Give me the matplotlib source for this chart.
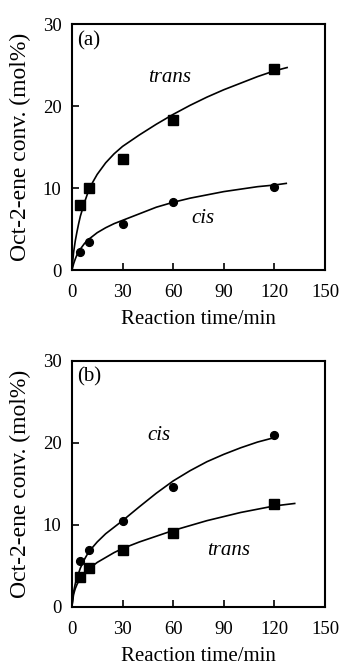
import matplotlib
matplotlib.use('Agg')
import matplotlib.pyplot as plt

plt.rcParams['font.family'] = ['Liberation Serif', 'DejaVu Serif']

# measured points
t = [5, 10, 30, 60, 120]
a_trans = [8.0, 10.0, 13.6, 18.3, 24.5]
a_cis = [2.2, 3.5, 5.7, 8.3, 10.2]
b_cis = [5.6, 6.9, 10.4, 14.6, 20.9]
b_trans = [3.6, 4.7, 6.9, 9.0, 12.5]

# fitted curves
a_trans_fit_t = [0, 1, 2, 3, 4, 5, 7.5, 10, 12.5, 15, 20, 25, 30, 40, 50, 60, 70, 80, 90, 100, 110, 120, 127.5]
a_trans_fit = [0, 2.2, 3.6, 4.7, 5.7, 6.6, 8.3, 9.8, 10.8, 11.7, 13.1, 14.2, 15.1, 16.5, 17.8, 19.0,
               20.1, 21.1, 22.0, 22.8, 23.6, 24.3, 24.7]
a_cis_fit_t = [0, 1, 2, 3, 5, 7.5, 10, 15, 20, 25, 30, 40, 50, 60, 70, 80, 90, 100, 110, 120, 127]
a_cis_fit = [0, 0.8, 1.4, 1.9, 2.6, 3.3, 3.8, 4.6, 5.2, 5.7, 6.1, 6.9, 7.7, 8.3, 8.8, 9.2, 9.6,
             9.9, 10.2, 10.4, 10.6]
b_cis_fit_t = [0, 1, 2, 3, 5, 7.5, 10, 15, 20, 25, 30, 40, 50, 60, 70, 80, 90, 100, 110, 121]
b_cis_fit = [0, 1.8, 2.8, 3.5, 4.7, 5.8, 6.7, 7.9, 8.9, 9.7, 10.5, 12.2, 13.85, 15.35, 16.6, 17.7,
             18.6, 19.4, 20.1, 20.7]
b_trans_fit_t = [0, 1, 2, 3, 5, 7.5, 10, 15, 20, 25, 30, 40, 50, 60, 70, 80, 90, 100, 110, 120, 132]
b_trans_fit = [0, 1.5, 2.2, 2.7, 3.5, 4.1, 4.6, 5.4, 6.0, 6.6, 7.1, 7.9, 8.6, 9.3, 9.9, 10.5,
               11.0, 11.5, 11.9, 12.3, 12.6]

fig = plt.figure(figsize=(3.44, 6.67), dpi=100)
ax1 = fig.add_axes([0.209, 0.5945, 0.736, 0.3695])
ax2 = fig.add_axes([0.209, 0.0905, 0.736, 0.3683])

panels = [
    (ax1, '(a)',
     (a_trans_fit_t, a_trans_fit, t, a_trans, 's'),
     (a_cis_fit_t, a_cis_fit, t, a_cis, 'o'),
     [('trans', 45, 23.5), ('cis', 71, 6.3)]),
    (ax2, '(b)',
     (b_cis_fit_t, b_cis_fit, t, b_cis, 'o'),
     (b_trans_fit_t, b_trans_fit, t, b_trans, 's'),
     [('cis', 45, 20.9), ('trans', 80, 6.8)]),
]

for ax, tag, s1, s2, labels in panels:
    for ft, fy, pt, py, mk in (s1, s2):
        ax.plot(ft, fy, color='black', lw=1.2, zorder=2, solid_joinstyle='round')
        ms = 6.8 if mk == 's' else 5.6
        ax.plot(pt, py, mk, color='black', ms=ms, mec='black', zorder=3)
    for txt, x, y in labels:
        ax.text(x, y, txt, fontsize=15, style='italic', ha='left', va='center')
    ax.text(3, 28.0, tag, fontsize=15, ha='left', va='center')

    ax.set_xlim(0, 150)
    ax.set_ylim(0, 30)
    ax.set_xticks([0, 30, 60, 90, 120, 150])
    ax.set_yticks([0, 10, 20, 30])
    ax.tick_params(direction='in', length=5, width=1.2, labelsize=13.5,
                   top=False, right=False)
    ax.tick_params(axis='x', pad=10)
    ax.tick_params(axis='y', pad=7.5)
    for sp in ax.spines.values():
        sp.set_linewidth(1.5)
    ax.set_xlabel('Reaction time/min', fontsize=15, labelpad=6.5)
    ax.set_ylabel('Oct-2-ene conv. (mol%)', fontsize=17, labelpad=8.5)

fig.savefig('out.png', dpi=100)
